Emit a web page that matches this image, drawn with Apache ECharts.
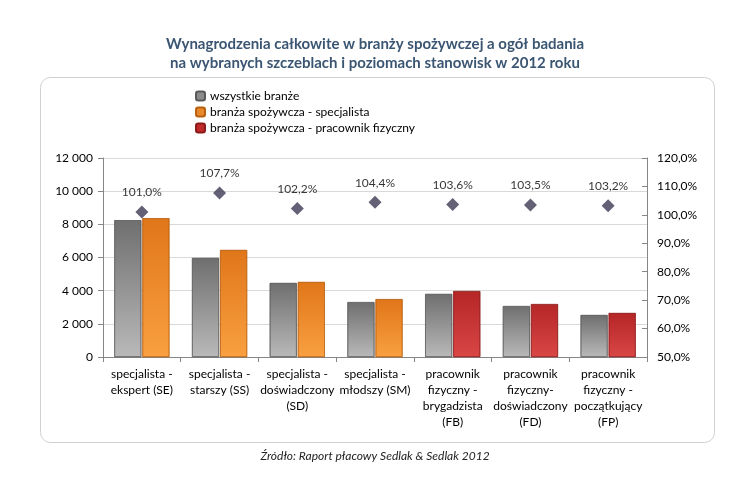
<!DOCTYPE html>
<html>
<head>
<meta charset="utf-8">
<script src="https://cdn.jsdelivr.net/npm/echarts@6/dist/echarts.min.js"></script>
<style>
  html, body { margin: 0; padding: 0; background: #ffffff; }
  #chart { width: 750px; height: 500px; }
</style>
</head>
<body>
<div id="chart"></div>
<script>
// dane
const categories = [
  'specjalista -\nekspert (SE)',
  'specjalista -\nstarszy (SS)',
  'specjalista -\ndoświadczony\n(SD)',
  'specjalista -\nmłodszy (SM)',
  'pracownik\nfizyczny -\nbrygadzista\n(FB)',
  'pracownik\nfizyczny-\ndoświadczony\n(FD)',
  'pracownik\nfizyczny -\npoczątkujący\n(FP)'
]
const allIndustries = [8250, 5970, 4460, 3310, 3800, 3070, 2530]
const foodSpecialist = [8370, 6450, 4520, 3490, null, null, null]
const foodManual = [null, null, null, null, 3975, 3190, 2650]
const ratio = [101.0, 107.7, 102.2, 104.4, 103.6, 103.5, 103.2]

const leftTicks = { min: 0, max: 12000, interval: 2000 }
const rightTicks = { min: 50, max: 120, interval: 10 }

const font = 'Lato, "Open Sans", sans-serif'

function grad (top, bottom) {
  return new echarts.graphic.LinearGradient(0, 0, 0, 1, [
    { offset: 0, color: top },
    { offset: 1, color: bottom }
  ])
}

const chart = echarts.init(document.getElementById('chart'))

const option = {
  backgroundColor: '#ffffff',
  textStyle: { fontFamily: font },
  graphic: [
    {
      type: 'rect',
      left: 38,
      top: 75,
      shape: { width: 674, height: 365, r: 10 },
      style: { fill: 'none', stroke: '#d0d0d0', lineWidth: 1 },
      silent: true,
      z: -1
    },
    {
      type: 'text',
      left: 'center',
      top: 35,
      style: {
        text: 'Wynagrodzenia całkowite w branży spożywczej a ogół badania\nna wybranych szczeblach i poziomach stanowisk w 2012 roku',
        fill: '#3b5673',
        font: 'bold 15px ' + font,
        textAlign: 'center',
        lineHeight: 19
      }
    },
    {
      type: 'text',
      left: 'center',
      top: 450,
      style: {
        text: 'Źródło: Raport płacowy Sedlak & Sedlak 2012',
        fill: '#222222',
        font: 'italic 12px ' + font
      }
    }
  ],
  legend: {
    orient: 'vertical',
    left: 190,
    top: 85,
    itemWidth: 9,
    itemHeight: 9,
    itemGap: 4,
    textStyle: { fontSize: 12, color: '#000000', fontFamily: font },
    data: [
      { name: 'wszystkie branże', itemStyle: { color: '#8c8c8c' } },
      { name: 'branża spożywcza - specjalista', itemStyle: { color: '#e8892c' } },
      { name: 'branża spożywcza - pracownik fizyczny', itemStyle: { color: '#c02a2a' } }
    ]
  },
  grid: { left: 103, right: 103, top: 158, bottom: 143 },
  xAxis: {
    type: 'category',
    data: categories,
    axisLine: { lineStyle: { color: '#868686' } },
    axisTick: { show: true, length: 5, lineStyle: { color: '#868686' } },
    axisLabel: {
      interval: 0,
      color: '#000000',
      fontSize: 12,
      lineHeight: 16,
      margin: 9,
      fontFamily: font
    }
  },
  yAxis: [
    {
      type: 'value',
      min: leftTicks.min,
      max: leftTicks.max,
      interval: leftTicks.interval,
      axisLine: { show: true, lineStyle: { color: '#868686' } },
      axisTick: { show: true, length: 5, lineStyle: { color: '#868686' } },
      splitLine: { lineStyle: { color: '#d9d9d9' } },
      axisLabel: {
        color: '#000000',
        fontSize: 12,
        margin: 10,
        fontFamily: font,
        formatter: v => String(v).replace(/\B(?=(\d{3})+(?!\d))/g, ' ')
      }
    },
    {
      type: 'value',
      min: rightTicks.min,
      max: rightTicks.max,
      interval: rightTicks.interval,
      axisLine: { show: true, lineStyle: { color: '#868686' } },
      axisTick: { show: true, inside: true, length: 5, lineStyle: { color: '#868686' } },
      splitLine: { show: false },
      axisLabel: {
        color: '#000000',
        fontSize: 12,
        margin: 10,
        fontFamily: font,
        formatter: v => v.toFixed(1).replace('.', ',') + '%'
      }
    }
  ],
  series: [
    {
      name: 'wszystkie branże',
      type: 'bar',
      barWidth: 27,
      barGap: '4%',
      data: allIndustries,
      itemStyle: {
        color: grad('#6f6f6f', '#b9b9b9'),
        borderColor: '#5a5a5a',
        borderWidth: 0.6
      }
    },
    {
      name: 'branża spożywcza - specjalista',
      type: 'bar',
      stack: 'food',
      barWidth: 27,
      data: foodSpecialist,
      itemStyle: {
        color: grad('#e0761a', '#f9a040'),
        borderColor: '#b8600f',
        borderWidth: 0.6
      }
    },
    {
      name: 'branża spożywcza - pracownik fizyczny',
      type: 'bar',
      stack: 'food',
      barWidth: 27,
      data: foodManual,
      itemStyle: {
        color: grad('#b52626', '#d94646'),
        borderColor: '#8e1b1b',
        borderWidth: 0.6
      }
    },
    {
      name: 'wskaźnik',
      type: 'scatter',
      yAxisIndex: 1,
      symbol: 'diamond',
      symbolSize: 13,
      data: ratio,
      itemStyle: { color: '#3d3852' },
      label: {
        show: true,
        position: 'top',
        distance: 7,
        color: '#000000',
        fontSize: 12,
        fontFamily: font,
        formatter: p => p.value.toFixed(1).replace('.', ',') + '%'
      },
      z: 5
    }
  ]
}

chart.setOption(option)
</script>
</body>
</html>
